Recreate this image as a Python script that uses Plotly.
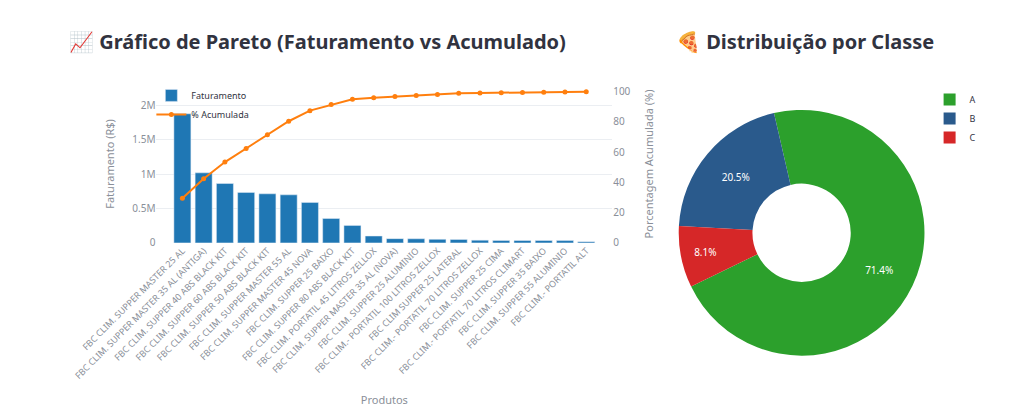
import plotly.graph_objects as go

produtos = [
    "FBC CLIM. SUPPER MASTER 25 AL",
    "FBC CLIM. SUPPER MASTER 35 AL (ANTIGA)",
    "FBC CLIM. SUPPER 40 ABS BLACK KIT",
    "FBC CLIM. SUPPER 60 ABS BLACK KIT",
    "FBC CLIM. SUPPER 50 ABS BLACK KIT",
    "FBC CLIM. SUPPER MASTER 55 AL",
    "FBC CLIM. SUPPER MASTER 45 NOVA",
    "FBC CLIM. SUPPER 25 BAIXO",
    "FBC CLIM. SUPPER 80 ABS BLACK KIT",
    "FBC CLIM. PORTATIL 45 LITROS ZELLOX",
    "FBC CLIM. SUPPER MASTER 35 AL (NOVA)",
    "FBC CLIM. SUPPER 25 ALUMINIO",
    "FBC CLIM.- PORTATIL 100 LITROS ZELLOX",
    "FBC CLIM SUPPER 25 LATERAL",
    "FBC CLIM.- PORTATIL 70 LITROS ZELLOX",
    "FBC CLIM. SUPPER 25 CIMA",
    "FBC CLIM.- PORTATIL 70 LITROS CLIMART",
    "FBC CLIM. SUPPER 35 BAIXO",
    "FBC CLIM. SUPPER 55 ALUMINIO",
    "FBC CLIM.- PORTATIL ALT",
]
faturamento = [1880000, 1020000, 865000, 735000, 715000, 700000, 590000, 355000, 255000,
               100000, 62000, 60000, 52000, 50000, 40000, 36000, 35000, 35000, 34000, 18000]
acumulada = [29.5, 42.5, 53.5, 62.5, 71.5, 80.5, 87.5, 91.5, 95, 96, 96.8, 97.5, 98.2,
             99, 99.2, 99.4, 99.5, 99.6, 99.8, 100]

classes = ["A", "B", "C"]
classe_pct = [71.4, 20.5, 8.1]
classe_cores = ["#2ca02c", "#2a5a8c", "#d62728"]

GRID = "#ebeef2"
TICK = dict(color="#8a8f99", size=10, family="Source Sans Pro, Noto Sans, sans-serif")

fig = go.Figure()
fig.add_trace(go.Bar(x=produtos, y=faturamento, name="Faturamento",
                     marker_color="#1f77b4", xaxis="x", yaxis="y"))
fig.add_trace(go.Scatter(x=produtos, y=acumulada, name="% Acumulada", mode="lines+markers",
                         line=dict(color="#ff7f0e", width=2), marker=dict(size=5),
                         xaxis="x", yaxis="y2"))
fig.add_trace(go.Pie(labels=classes, values=classe_pct, hole=0.4, sort=False,
                     direction="counterclockwise", rotation=347,
                     marker=dict(colors=classe_cores), textinfo="percent",
                     textfont=dict(color="white", size=10),
                     domain=dict(x=[0.655, 0.895], y=[0.07, 0.82]), legend="legend2"))

fig.update_layout(
    width=1024, height=405, margin=dict(l=0, r=0, t=0, b=0),
    paper_bgcolor="white", plot_bgcolor="white",
    font=dict(family="Source Sans Pro, Noto Sans, sans-serif", color="#31333f"),
    bargap=0.2,
    xaxis=dict(domain=[0.145, 0.59], tickangle=-45, tickfont=dict(TICK, size=9),
               title=dict(text="Produtos", font=dict(color="#8a8f99", size=11)),
               showgrid=False, anchor="y", automargin=False),
    yaxis=dict(domain=[0.42, 0.81], range=[0, 2.3e6], tickvals=[0, 5e5, 1e6, 1.5e6, 2e6],
               ticktext=["0", "0.5M", "1M", "1.5M", "2M"], tickfont=TICK, gridcolor=GRID,
               automargin=False,
               title=dict(text="Faturamento (R$)", font=dict(color="#8a8f99", size=11))),
    yaxis2=dict(overlaying="y", side="right", range=[0, 104.5], tickfont=TICK,
                tickvals=[0, 20, 40, 60, 80, 100], showgrid=False, anchor="x",
                automargin=False,
                title=dict(text="Porcentagem Acumulada (%)", font=dict(color="#8a8f99", size=11))),
    legend=dict(x=0.14, y=0.82, xanchor="left", yanchor="top", font=dict(size=9),
                bgcolor="rgba(255,255,255,0)"),
    legend2=dict(x=0.9, y=0.81, xanchor="left", yanchor="top", font=dict(size=9)),
)

fig.add_annotation(text="<b>📈 Gráfico de Pareto (Faturamento vs Acumulado)</b>",
                   x=0.058, y=0.955, xref="paper", yref="paper", xanchor="left", yanchor="top",
                   showarrow=False, font=dict(size=20, color="#31333f"))
fig.add_annotation(text="<b>🍕 Distribuição por Classe</b>",
                   x=0.65, y=0.955, xref="paper", yref="paper", xanchor="left", yanchor="top",
                   showarrow=False, font=dict(size=20, color="#31333f"))

fig.write_html("out.html")
